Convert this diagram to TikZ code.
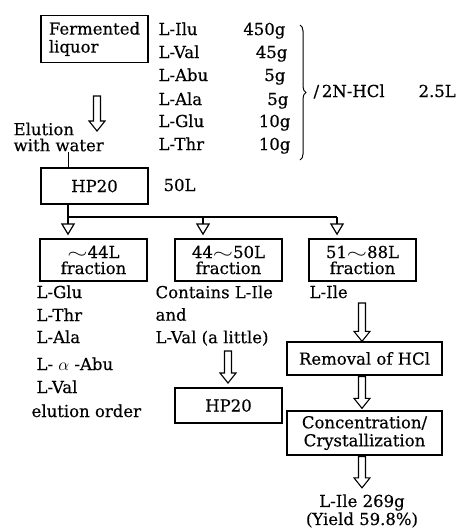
\documentclass[tikz,border=0pt]{standalone}
\usepackage{fontspec}
\setmainfont{DejaVu Serif}[FakeBold=0.4]
\usetikzlibrary{arrows.meta,positioning,calc,decorations.pathreplacing}
\newcommand{\wave}{\scalebox{1.5}[1]{$\sim$}}

\begin{document}
\begin{tikzpicture}[x=1pt,y=-1pt,line width=1.2pt,
  font=\fontsize{16.5}{17}\selectfont,
  box/.style={draw,line width=1.3pt,inner sep=2pt,align=center},
  lbl/.style={inner sep=0pt,anchor=base west},
  amt/.style={inner sep=0pt,anchor=base east},
  tri/.style={-{Triangle[open,length=12pt,width=14pt]},shorten >=3pt},
  hollow/.style={line width=1.1pt,to path={let \p1=(\tikztostart),\p2=(\tikztotarget) in
    (\x1-3.5pt,\y1) -- (\x1+3.5pt,\y1) -- (\x1+3.5pt,\y2+10pt) -- (\x1+8pt,\y2+10pt)
    -- (\x1,\y2) -- (\x1-8pt,\y2+10pt) -- (\x1-3.5pt,\y2+10pt) -- cycle}}]
  \useasboundingbox (0,0) rectangle (459,528);

  % raw liquor and its contents
  \node[box,align=left,minimum width=107,minimum height=47,
        font=\fontsize{16.5}{18}\selectfont] (liquor) at (94.5,39) {Fermented\\liquor};
  \node[lbl] (ilu) at (158,35) {L-Ilu};
  \node[lbl] (val) at (158,58) {L-Val};
  \node[lbl] (abu) at (158,81) {L-Abu};
  \node[lbl] (ala) at (158,105) {L-Ala};
  \node[lbl] (glu) at (158,127) {L-Glu};
  \node[lbl] (thr) at (158,150) {L-Thr};
  \node[amt] (iluw) at (286,35) {450g};
  \node[amt] (valw) at (288,58) {45g};
  \node[amt] (abuw) at (286,81) {5g};
  \node[amt] (alaw) at (289,105) {5g};
  \node[amt] (gluw) at (291,127) {10g};
  \node[amt] (thrw) at (291,150) {10g};
  \coordinate (btop) at (300,25);
  \coordinate (bbot) at (300,160);
  \draw[decorate,decoration={brace,amplitude=6pt},line width=1pt] (btop) -- (bbot);
  \node[lbl] (hcl) at (313,97) {/\,2N-HCl};
  \node[lbl] (hclv) at (418,97) {2.5L};

  % first column
  \coordinate (a1s) at (97,96);
  \coordinate (a1e) at (97,131);
  \draw[hollow] (a1s) to (a1e);
  \node[inner sep=0pt,align=left,anchor=west,
        font=\fontsize{16.5}{16}\selectfont] (elution) at (13,137) {Elution\\with water};
  \node[box,minimum width=107,minimum height=36] (hp) at (94.5,186) {HP20};
  \node[lbl] (hpv) at (163,191) {50L};
  \coordinate (tap) at (68,168);
  \draw[line width=1pt] (tap |- elution.south) -- (tap);

  % splitting into fractions
  \node[box,minimum width=107,minimum height=42,
        font=\fontsize{16.5}{16}\selectfont] (f1) at (93.5,260) {\wave44L\\fraction};
  \node[box,minimum width=107,minimum height=42,
        font=\fontsize{16.5}{16}\selectfont] (f2) at (228.5,260) {44\wave50L\\fraction};
  \node[box,minimum width=107,minimum height=42,
        font=\fontsize{16.5}{16}\selectfont] (f3) at (362.5,260) {51\wave88L\\fraction};
  \coordinate (d1) at (68,217);
  \coordinate (d2) at (203,217);
  \coordinate (d3) at (337,217);
  \draw[tri] (d1 |- hp.south) -- (d1 |- f1.north);
  \draw (d1) -- (d3);
  \draw[tri] (d2) -- (d2 |- f2.north);
  \draw[tri] (d3) -- (d3 |- f3.north);

  % what each fraction holds
  \node[lbl] (e1) at (36,298) {L-Glu};
  \node[lbl] (e2) at (36,321) {L-Thr};
  \node[lbl] (e3) at (36,343) {L-Ala};
  \node[lbl] (e4) at (36,370) {L- $\alpha$ -Abu};
  \node[lbl] (e5) at (36,393) {L-Val};
  \node[lbl] (order) at (31,417) {elution order};
  \node[inner sep=0pt,align=left,anchor=north west,
        font=\fontsize{16.5}{22.5}\selectfont] (mix) at (155,285) {Contains L-Ile\\and\\L-Val (a little)};
  \node[lbl] (ile) at (309,298) {L-Ile};

  % second column
  \coordinate (a2s) at (228,351);
  \coordinate (a2e) at (228,383);
  \draw[hollow] (a2s) to (a2e);
  \node[box,minimum width=107,minimum height=35] (hp2) at (228.5,405.5) {HP20};

  % third column
  \node[box,minimum width=155,minimum height=33] (hcloff) at (364.5,358.5) {Removal of HCl};
  \node[box,minimum width=155,minimum height=44,
        font=\fontsize{16.5}{18}\selectfont] (conc) at (364.5,433) {Concentration/\\Crystallization};
  \node[align=center,inner sep=0pt,font=\fontsize{16.5}{18}\selectfont] (yield) at (362,511)
        {L-Ile 269g\\(Yield 59.8\%)};
  \coordinate (a3s) at (362,303);
  \draw[hollow] (a3s) to (a3s |- hcloff.north);
  \draw[hollow] ([yshift=-1pt]hcloff.south -| a3s) to ([yshift=2pt]conc.north -| a3s);
  \draw[hollow] ([yshift=-1pt]conc.south -| a3s) to ([yshift=6pt]yield.north -| a3s);
\end{tikzpicture}
\end{document}
